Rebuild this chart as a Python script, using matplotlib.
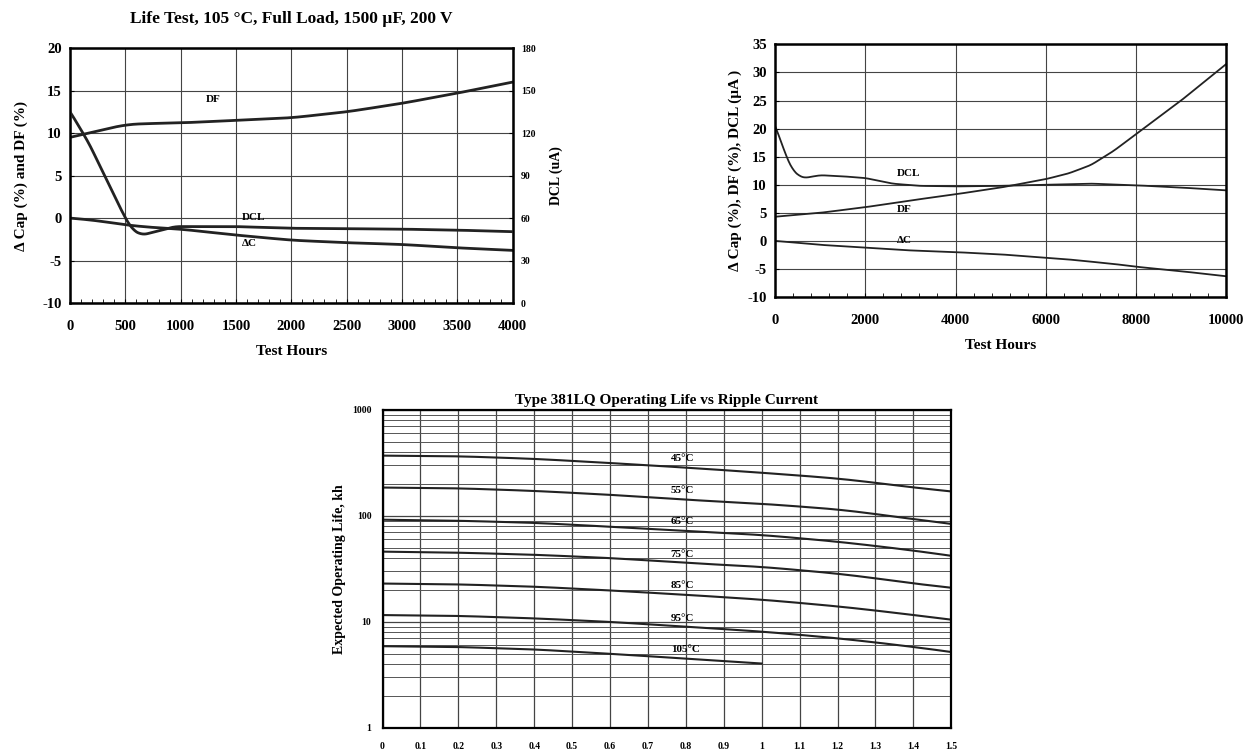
import matplotlib.pyplot as plt
from matplotlib.ticker import MultipleLocator, LogLocator, FixedLocator
import numpy as np

plt.rcParams['font.family'] = ['Liberation Serif', 'DejaVu Serif']
plt.rcParams['font.weight'] = 'bold'
plt.rcParams['axes.unicode_minus'] = False

# --- life test 4000 h (left chart) ---
hours_a = [0, 100, 200, 300, 400, 500, 650, 800, 1000, 1500, 2000, 2500, 3000, 3500, 4000]
df_a = [9.5, 9.8, 10.1, 10.4, 10.7, 11.0, 11.1, 11.15, 11.2, 11.5, 11.8, 12.5, 13.5, 14.7, 16.0]
dcap_a = [0, -0.1, -0.25, -0.4, -0.6, -0.8, -1.0, -1.15, -1.3, -2.0, -2.6, -2.9, -3.1, -3.5, -3.8]
dcl_hours_a = [0, 50, 100, 160, 320, 480, 560, 650, 800, 950, 1500, 2000, 2500, 3000, 3500, 4000]
dcl_a = [135, 129, 122, 114.6, 88.8, 63, 52, 48, 51, 54, 54, 52.8, 52.5, 52.2, 51.5, 50.4]

# --- life test 10000 h (right chart) ---
hours_b = [0, 100, 250, 400, 550, 650, 1000, 1500, 2000, 2600, 3200, 4000, 5000, 6000, 7000, 8000, 9000, 10000]
dcl_b = [20.5, 18.5, 15, 12.5, 11.5, 11.2, 11.7, 11.5, 11.2, 10.2, 9.8, 9.7, 9.8, 10.0, 10.2, 9.9, 9.5, 9.0]
hours_b2 = [0, 1000, 2000, 3000, 4000, 5000, 6000, 6500, 7000, 7500, 8000, 9000, 10000]
df_b = [4.3, 5.0, 6.0, 7.2, 8.3, 9.5, 11.0, 12.0, 13.5, 16.0, 19.0, 25.0, 31.5]
dcap_b = [0, -0.7, -1.2, -1.7, -2.0, -2.4, -3.0, -3.3, -3.7, -4.1, -4.6, -5.4, -6.3]

# --- operating life vs ripple current ---
ripple = [0, 0.2, 0.4, 0.6, 0.8, 1.0, 1.2, 1.4, 1.5]
life = {
    '45°C': [370, 365, 345, 315, 285, 255, 225, 185, 170],
    '55°C': [185, 182, 172, 158, 142, 130, 115, 93, 84],
    '65°C': [92, 90, 86, 79, 72, 66, 57, 47, 42],
    '75°C': [46, 45, 43, 40, 36, 33, 28.5, 23, 21],
    '85°C': [23, 22.6, 21.5, 19.8, 18, 16.2, 14, 11.6, 10.5],
    '95°C': [11.6, 11.4, 10.8, 10, 9, 8.1, 7, 5.8, 5.2],
    '105°C': [5.9, 5.8, 5.5, 5.0, 4.5, 4.05],
}
label_y = {'45°C': 330, '55°C': 165, '65°C': 83, '75°C': 41, '85°C': 21,
           '95°C': 10.3, '105°C': 5.2}


def smooth(x, y, n=400, k=5):
    xs = np.linspace(x[0], x[-1], n)
    out = np.interp(xs, x, y)
    # short moving average, endpoints kept
    pad = np.concatenate([2 * out[0] - out[k:0:-1], out, 2 * out[-1] - out[-2:-k - 2:-1]])
    ker = np.ones(2 * k + 1) / (2 * k + 1)
    out = np.convolve(pad, ker, mode='valid')
    return xs, out


fig = plt.figure(figsize=(12.5, 7.52), dpi=100)
tick_kw = dict(labelsize=10.5, direction='in', length=3, pad=6)

# left chart
ax1 = fig.add_axes([0.056, 0.597, 0.354, 0.339])
x, y = smooth(hours_a, df_a, k=12)
ax1.plot(x, y, color='#222', lw=2)
x, y = smooth(hours_a, dcap_a, k=12)
ax1.plot(x, y, color='#222', lw=2)
ax1.set_xlim(0, 4000)
ax1.set_ylim(-10, 20)
ax1.xaxis.set_major_locator(MultipleLocator(500))
ax1.xaxis.set_minor_locator(MultipleLocator(100))
ax1.yaxis.set_major_locator(MultipleLocator(5))
ax1.grid(True, color='#444', lw=0.8)
ax1.tick_params(axis='both', which='major', **tick_kw)
ax1.tick_params(axis='x', which='major', pad=12)
ax1.tick_params(axis='x', which='minor', direction='in', length=3)
ax1.set_xlabel('Test Hours', fontsize=11, fontweight='bold', labelpad=9)
ax1.set_ylabel('Δ Cap (%) and DF (%)', fontsize=11, fontweight='bold', labelpad=10)
ax1.set_title('Life Test, 105 °C, Full Load, 1500 µF, 200 V', fontsize=12.5, fontweight='bold', pad=18)
for s in ax1.spines.values():
    s.set_linewidth(1.8)
ax1.text(1230, 13.7, 'DF', fontsize=8, fontweight='bold')
ax1.text(1550, -0.2, 'DCL', fontsize=8, fontweight='bold')
ax1.text(1550, -3.3, 'ΔC', fontsize=8, fontweight='bold')

ax1r = ax1.twinx()
x, y = smooth(dcl_hours_a, dcl_a, n=800, k=10)
ax1r.plot(x, y, color='#222', lw=2)
ax1r.set_ylim(0, 180)
ax1r.yaxis.set_major_locator(MultipleLocator(30))
ax1r.tick_params(axis='y', labelsize=7, direction='in', length=3, pad=6)
ax1r.set_ylabel('DCL (uA)', fontsize=10, fontweight='bold', labelpad=10)

# right chart
ax2 = fig.add_axes([0.62, 0.605, 0.361, 0.336])
for hx, hy in [(hours_b, dcl_b), (hours_b2, df_b), (hours_b2, dcap_b)]:
    x, y = smooth(hx, hy, n=1000, k=10)
    ax2.plot(x, y, color='#222', lw=1.3)
ax2.set_xlim(0, 10000)
ax2.set_ylim(-10, 35)
ax2.xaxis.set_major_locator(MultipleLocator(2000))
ax2.xaxis.set_minor_locator(MultipleLocator(400))
ax2.yaxis.set_major_locator(MultipleLocator(5))
ax2.grid(True, color='#444', lw=0.8)
ax2.tick_params(axis='both', which='major', **tick_kw)
ax2.tick_params(axis='x', which='major', pad=12)
ax2.tick_params(axis='x', which='minor', direction='in', length=3)
ax2.set_xlabel('Test Hours', fontsize=11, fontweight='bold', labelpad=9)
ax2.set_ylabel('Δ Cap (%), DF (%), DCL (µA )', fontsize=11, fontweight='bold')
for s in ax2.spines.values():
    s.set_linewidth(1.8)
ax2.text(2700, 11.6, 'DCL', fontsize=8, fontweight='bold')
ax2.text(2700, 5.2, 'DF', fontsize=8, fontweight='bold')
ax2.text(2700, -0.3, 'ΔC', fontsize=8, fontweight='bold')

# bottom chart
ax3 = fig.add_axes([0.306, 0.032, 0.455, 0.423])
for name, vals in life.items():
    x, y = smooth(ripple[:len(vals)], vals, k=15)
    ax3.plot(x, y, color='#222', lw=1.5)
    ax3.text(0.76, label_y[name], name, fontsize=8, fontweight='bold')
ax3.set_yscale('log')
ax3.set_xlim(0, 1.5)
ax3.set_ylim(1, 1000)
ax3.xaxis.set_major_locator(FixedLocator(np.arange(0, 16) / 10))
ax3.set_xticklabels(['0', '0.1', '0.2', '0.3', '0.4', '0.5', '0.6', '0.7', '0.8',
                     '0.9', '1', '1.1', '1.2', '1.3', '1.4', '1.5'])
ax3.yaxis.set_major_locator(FixedLocator([1, 10, 100, 1000]))
ax3.set_yticklabels(['1', '10', '100', '1000'])
ax3.yaxis.set_minor_locator(LogLocator(base=10, subs=np.arange(2, 10) * 1.0))
ax3.yaxis.set_minor_formatter(plt.NullFormatter())
ax3.grid(True, which='major', color='#444', lw=0.9)
ax3.grid(True, which='minor', axis='y', color='#555', lw=0.7)
ax3.tick_params(axis='x', which='major', labelsize=7, direction='in', length=0, pad=10)
ax3.tick_params(axis='y', which='major', labelsize=7, direction='in', length=0, pad=8)
ax3.tick_params(axis='y', which='minor', length=0)
ax3.set_ylabel('Expected Operating Life, kh', fontsize=10, fontweight='bold', labelpad=4)
ax3.set_title('Type 381LQ Operating Life vs Ripple Current', fontsize=11, fontweight='bold', pad=4)
for s in ax3.spines.values():
    s.set_linewidth(1.6)

fig.savefig('out.png', dpi=100)
